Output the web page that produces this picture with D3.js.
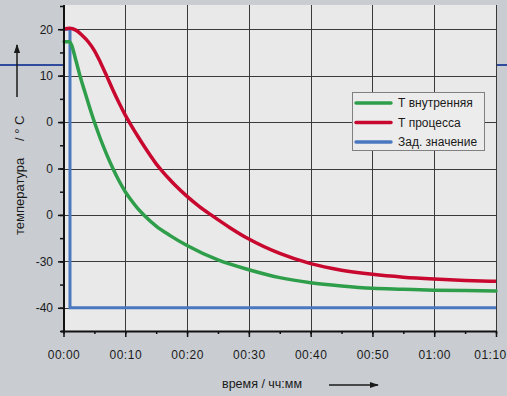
<!DOCTYPE html>
<html>
<head>
<meta charset="utf-8">
<script src="https://cdn.jsdelivr.net/npm/d3@7"></script>
<style>
  html, body { margin: 0; padding: 0; background: #c9cdd2; }
  svg { display: block; font-family: "Liberation Sans", Arial, sans-serif; }
</style>
</head>
<body>
<svg id="chart" width="507" height="396"></svg>
<script>
// time in minutes
var xTicks = [0, 10, 20, 30, 40, 50, 60, 70];
var xTickLabels = ["00:00", "00:10", "00:20", "00:30", "00:40", "00:50", "01:00", "01:10"];
var yTicks = [20, 10, 0, -10, -20, -30, -40];
// labels as printed on the original (the -10 / -20 ticks read "0")
var yTickLabels = ["20", "10", "0", "0", "0", "-30", "-40"];

var seriesNames = ["Т внутренняя", "Т процесса", "Зад. значение"];
var seriesColors = ["#2e9e4b", "#c8082f", "#4a78c0"];

var tInner = [0.1, 1.0, 1.3, 2.0, 2.7, 3.5, 4.5, 5, 6, 7, 8, 9, 10, 11, 12, 13, 15, 17.2, 20, 25, 30, 35, 40, 45, 50, 55, 60, 65, 70];
var vInner = [17.3, 17.3, 16.6, 13.3, 9.8, 6.3, 2.0, 0.0, -3.7, -7.0, -10.0, -12.7, -15.0, -16.9, -18.6, -20.0, -22.4, -24.4, -26.6, -29.7, -31.8, -33.5, -34.6, -35.3, -35.8, -36.0, -36.2, -36.3, -36.4];

var tProcess = [0, 1, 2, 3, 4, 5, 6, 7, 8, 9, 10, 11, 12, 13, 14, 15, 16, 17, 18, 20, 22, 24, 27, 30, 35, 40, 45, 50, 55, 60, 65, 70];
var vProcess = [20.0, 20.2, 19.8, 18.7, 17.3, 15.4, 12.8, 9.9, 6.9, 4.1, 1.5, -0.8, -3.0, -5.1, -7.1, -9.0, -10.6, -12.1, -13.5, -16.0, -18.2, -20.1, -22.8, -25.2, -28.3, -30.5, -31.9, -32.8, -33.4, -33.8, -34.1, -34.3];

var tSet = [0, 1.05, 1.05, 70];
var vSet = [20, 20, -40, -40];

var svg = d3.select("#chart");

var x = d3.scaleLinear().domain([0, 70]).range([63.5, 496]);
var y = d3.scaleLinear().domain([-45, 25]).range([331, 6]);

// decorative blue rule behind the plot
svg.append("line")
  .attr("x1", 0).attr("x2", 507)
  .attr("y1", 65).attr("y2", 65)
  .attr("stroke", "#2f4b9e").attr("stroke-width", 2);

// plot background
svg.append("rect")
  .attr("x", 64).attr("y", 5)
  .attr("width", 432).attr("height", 326)
  .attr("fill", "#e9e9e9");

// GRID
var grid = svg.append("g").attr("stroke", "#3a3a3a").attr("stroke-width", 1);
xTicks.forEach(function(t) {
  var px = Math.round(x(t)) + 0.5;
  grid.append("line").attr("x1", px).attr("x2", px).attr("y1", 5).attr("y2", 331);
});
yTicks.forEach(function(v) {
  var py = Math.round(y(v)) + 0.5;
  grid.append("line").attr("x1", 64).attr("x2", 497).attr("y1", py).attr("y2", py);
});

// SERIES
function lineOf(ts, vs, curve) {
  var pts = ts.map(function(t, i) { return [t, vs[i]]; });
  return d3.line()
    .x(function(d) { return x(d[0]); })
    .y(function(d) { return y(d[1]); })
    .curve(curve)(pts);
}

svg.append("path")
  .attr("d", lineOf(tSet, vSet, d3.curveLinear))
  .attr("fill", "none").attr("stroke", seriesColors[2]).attr("stroke-width", 3);

svg.append("path")
  .attr("d", lineOf(tInner, vInner, d3.curveMonotoneX))
  .attr("fill", "none").attr("stroke", seriesColors[0]).attr("stroke-width", 3.5)
  .attr("stroke-linecap", "round");

svg.append("path")
  .attr("d", lineOf(tProcess, vProcess, d3.curveMonotoneX))
  .attr("fill", "none").attr("stroke", seriesColors[1]).attr("stroke-width", 3.5);

// AXES
var xMinor = d3.range(0, 71, 5);
var yMinor = d3.range(-45, 26, 5);

var xAxisMinor = svg.append("g").attr("transform", "translate(0,331)")
  .call(d3.axisBottom(x).tickValues(xMinor).tickSize(3).tickFormat(""));
var xAxis = svg.append("g").attr("transform", "translate(0,331)")
  .call(d3.axisBottom(x).tickValues(xTicks).tickSize(6).tickPadding(13)
    .tickFormat(function(d, i) { return xTickLabels[i]; }));

var yAxisMinor = svg.append("g").attr("transform", "translate(64,0)")
  .call(d3.axisLeft(y).tickValues(yMinor).tickSize(4).tickFormat(""));
var yAxis = svg.append("g").attr("transform", "translate(64,0)")
  .call(d3.axisLeft(y).tickValues(yTicks).tickSize(6).tickPadding(5)
    .tickFormat(function(d, i) { return yTickLabels[i]; }));

[xAxisMinor, xAxis, yAxisMinor, yAxis].forEach(function(g) {
  g.selectAll(".domain").remove();
  g.selectAll(".tick line").attr("stroke", "#111").attr("stroke-width", 1.5);
});
xAxis.selectAll("text").attr("font-size", 12).attr("fill", "#1a1a1a").attr("letter-spacing", 0.5)
  .attr("font-family", "Liberation Sans, Arial, sans-serif");
// last label sits against the right edge in the original
xAxis.selectAll(".tick text").filter(function(d) { return d === 70; }).attr("dx", -6);
yAxis.selectAll("text").attr("font-size", 12).attr("fill", "#1a1a1a")
  .attr("font-family", "Liberation Sans, Arial, sans-serif");

// axis lines
svg.append("line").attr("x1", 64).attr("x2", 64).attr("y1", 5).attr("y2", 332)
  .attr("stroke", "#111").attr("stroke-width", 2);
svg.append("line").attr("x1", 61).attr("x2", 497).attr("y1", 331.5).attr("y2", 331.5)
  .attr("stroke", "#111").attr("stroke-width", 2);

// AXIS TITLES
svg.append("text")
  .attr("transform", "translate(24,235) rotate(-90)")
  .attr("font-size", 13).attr("fill", "#1a1a1a")
  .text("температура");
svg.append("text")
  .attr("transform", "translate(24,141) rotate(-90)")
  .attr("font-size", 13).attr("fill", "#1a1a1a")
  .text("/ ° C");

var arrows = svg.append("defs");
arrows.append("marker")
  .attr("id", "arrow")
  .attr("viewBox", "0 0 10 10")
  .attr("refX", 9).attr("refY", 5)
  .attr("markerWidth", 6).attr("markerHeight", 6)
  .attr("orient", "auto")
  .append("path").attr("d", "M0,1.5 L10,5 L0,8.5 Z").attr("fill", "#1a1a1a");

svg.append("line")
  .attr("x1", 17).attr("x2", 17).attr("y1", 97).attr("y2", 45)
  .attr("stroke", "#1a1a1a").attr("stroke-width", 1.5)
  .attr("marker-end", "url(#arrow)");

svg.append("text")
  .attr("x", 222).attr("y", 388)
  .attr("font-size", 12.5).attr("fill", "#1a1a1a")
  .text("время / чч:мм");

svg.append("line")
  .attr("x1", 329).attr("x2", 378).attr("y1", 385).attr("y2", 385)
  .attr("stroke", "#1a1a1a").attr("stroke-width", 1.5)
  .attr("marker-end", "url(#arrow)");

// LEGEND
var legend = svg.append("g").attr("transform", "translate(352,92)");
legend.append("rect")
  .attr("x", 0.5).attr("y", 0.5).attr("width", 132).attr("height", 58)
  .attr("fill", "#ececec").attr("stroke", "#808080").attr("stroke-width", 1);
seriesNames.forEach(function(name, i) {
  var ly = 11 + i * 19.5;
  legend.append("line")
    .attr("x1", 4).attr("x2", 39).attr("y1", ly).attr("y2", ly)
    .attr("stroke", seriesColors[i]).attr("stroke-width", 3.5)
    .attr("stroke-linecap", "round");
  legend.append("text")
    .attr("x", 46).attr("y", ly + 4)
    .attr("font-size", 12).attr("fill", "#1a1a1a")
    .text(name);
});
</script>
</body>
</html>
